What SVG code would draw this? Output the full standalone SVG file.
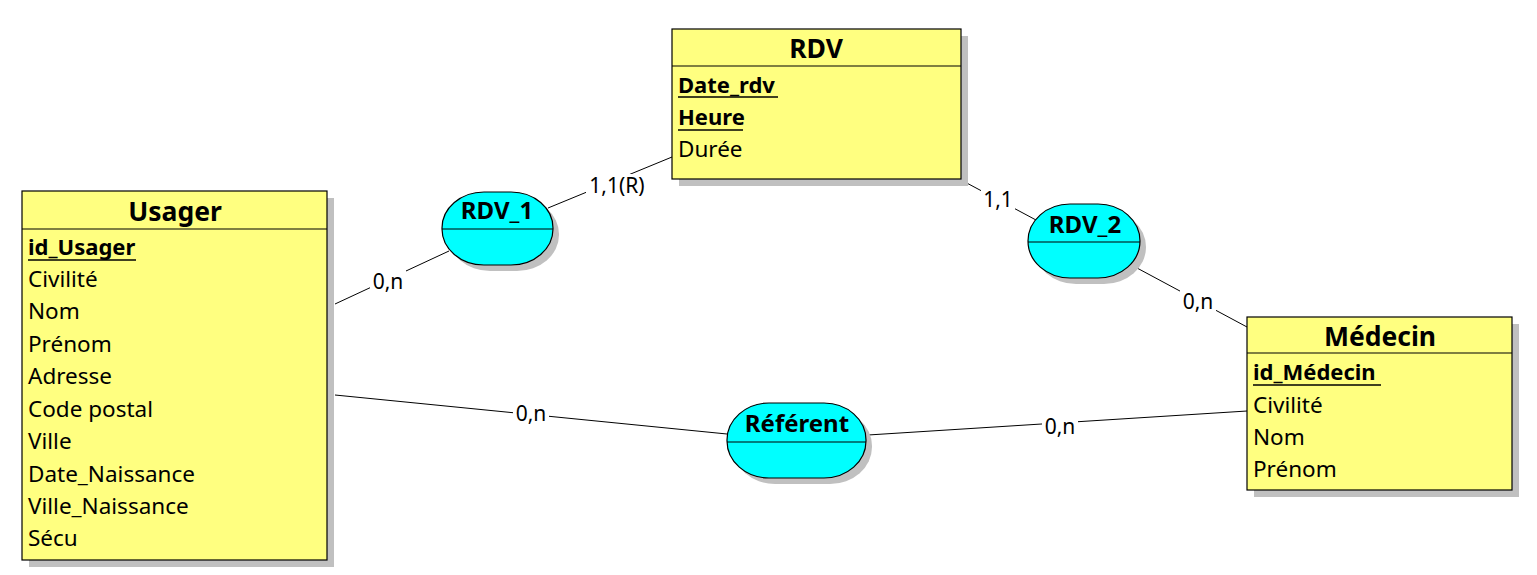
<svg xmlns="http://www.w3.org/2000/svg" width="1537" height="575" viewBox="0 0 1537 575">
<style>
.ent{fill:#ffff80;stroke:#000;stroke-width:1.2}
.rel{fill:#00ffff;stroke:#000;stroke-width:1.2}
.sh{fill:#c0c0c0}
.div{stroke:#000;stroke-width:1.2}
.t{font-family:"Noto Sans","Open Sans",sans-serif;fill:#000}
.title{font-size:26.5px;font-weight:bold;text-anchor:middle}
.rt{font-size:24px}
.attr{font-size:22.5px}
.key{font-size:22px;font-weight:bold}
.ul{stroke:#000;stroke-width:1.3}
.lnk{stroke:#000;stroke-width:1;fill:none}
.bg{fill:#fff}
.card{font-size:21px;text-anchor:middle}
</style>
<rect width="1537" height="575" fill="#fff"/>
<g id="connectors">
<line class="lnk" x1="335" y1="304" x2="449" y2="251"/>
<line class="lnk" x1="548" y1="208" x2="672" y2="157"/>
<line class="lnk" x1="963" y1="181" x2="1036" y2="220"/>
<line class="lnk" x1="1137" y1="268" x2="1247" y2="327"/>
<line class="lnk" x1="335" y1="395" x2="727" y2="434"/>
<line class="lnk" x1="868" y1="435" x2="1247" y2="411"/>
<rect class="bg" x="370" y="270" width="36" height="24"/>
<rect class="bg" x="586" y="174" width="63" height="24"/>
<rect class="bg" x="981" y="188" width="34" height="24"/>
<rect class="bg" x="1180" y="290" width="36" height="24"/>
<rect class="bg" x="513" y="402" width="36" height="24"/>
<rect class="bg" x="1042" y="415" width="36" height="24"/>
<text class="t card" x="388" y="289">0,n</text>
<text class="t card" x="617" y="193">1,1(R)</text>
<text class="t card" x="998" y="207">1,1</text>
<text class="t card" x="1198" y="309">0,n</text>
<text class="t card" x="531" y="421">0,n</text>
<text class="t card" x="1060" y="434">0,n</text>
</g>
<g id="Usager">
<rect class="sh" x="29" y="198" width="305" height="369"/>
<rect class="ent" x="22" y="191" width="305" height="369"/>
<line class="div" x1="22" y1="229" x2="327" y2="229"/>
<text class="t title" x="175" y="221">Usager</text>
<text class="t key" x="28" y="255">id_Usager</text>
<line class="ul" x1="28" y1="260" x2="136" y2="260"/>
<text class="t attr" x="28" y="287">Civilité</text>
<text class="t attr" x="28" y="319">Nom</text>
<text class="t attr" x="28" y="352">Prénom</text>
<text class="t attr" x="28" y="384">Adresse</text>
<text class="t attr" x="28" y="417">Code postal</text>
<text class="t attr" x="28" y="449">Ville</text>
<text class="t attr" x="28" y="482">Date_Naissance</text>
<text class="t attr" x="28" y="514">Ville_Naissance</text>
<text class="t attr" x="28" y="546">Sécu</text>
</g>
<g id="RDV">
<rect class="sh" x="679" y="36" width="289" height="150"/>
<rect class="ent" x="672" y="29" width="289" height="150"/>
<line class="div" x1="672" y1="66" x2="961" y2="66"/>
<text class="t title" x="816" y="58">RDV</text>
<text class="t key" x="678" y="93">Date_rdv</text>
<line class="ul" x1="678" y1="97" x2="778" y2="97"/>
<text class="t key" x="678" y="125">Heure</text>
<line class="ul" x1="678" y1="130" x2="743" y2="130"/>
<text class="t attr" x="678" y="157">Durée</text>
</g>
<g id="Medecin">
<rect class="sh" x="1254" y="324" width="265" height="173"/>
<rect class="ent" x="1247" y="317" width="265" height="173"/>
<line class="div" x1="1247" y1="353" x2="1512" y2="353"/>
<text class="t title" x="1380" y="346">Médecin</text>
<text class="t key" x="1253" y="380">id_Médecin</text>
<line class="ul" x1="1253" y1="385" x2="1381" y2="385"/>
<text class="t attr" x="1253" y="413">Civilité</text>
<text class="t attr" x="1253" y="445">Nom</text>
<text class="t attr" x="1253" y="477">Prénom</text>
</g>
<g id="RDV_1">
<rect class="sh" x="448" y="198" width="111" height="73" rx="42" ry="36"/>
<rect class="rel" x="442" y="192" width="111" height="73" rx="42" ry="36"/>
<line class="div" x1="442" y1="229" x2="553" y2="229"/>
<text class="t title rt" x="497" y="219">RDV_1</text>
</g>
<g id="RDV_2">
<rect class="sh" x="1034" y="210" width="112" height="74" rx="42" ry="37"/>
<rect class="rel" x="1028" y="204" width="112" height="74" rx="42" ry="37"/>
<line class="div" x1="1028" y1="242" x2="1140" y2="242"/>
<text class="t title rt" x="1085" y="233">RDV_2</text>
</g>
<g id="Referent">
<rect class="sh" x="733" y="409" width="139" height="75" rx="42" ry="37"/>
<rect class="rel" x="727" y="403" width="139" height="75" rx="42" ry="37"/>
<line class="div" x1="727" y1="442" x2="866" y2="442"/>
<text class="t title rt" x="797" y="432">Référent</text>
</g>
</svg>
